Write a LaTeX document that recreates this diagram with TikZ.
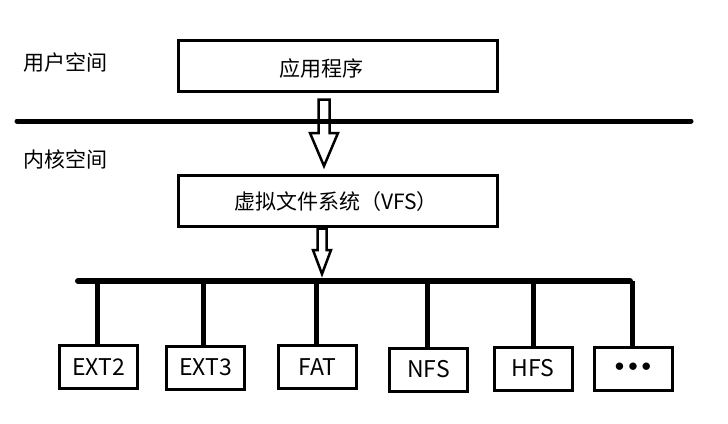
\documentclass[tikz,border=0pt]{standalone}
\usepackage{fontspec}
\setmainfont{Noto Sans CJK SC}
\newfontfamily\dotfont{DejaVu Sans Bold}
\usetikzlibrary{calc}
\tikzset{
  box/.style={draw=black, line width=3pt, inner sep=0pt},
  bigbox/.style={box, minimum width=319pt, minimum height=51pt},
  fsbox/.style={box, minimum width=78pt, minimum height=43pt, font=\fontsize{23}{27}\selectfont},
  cjk/.style={inner sep=0pt, font=\fontsize{21}{25}\selectfont},
  thickline/.style={line width=5pt, line cap=round},
  stem/.style={line width=5pt},
  hollow/.style={draw=black, line width=2.5pt, line join=miter, fill=none}
}
\newcommand{\hollowarrow}[6]{% x, ytop, yhead, ytip, shaft half, head half
  \draw[hollow] (#1-#5,#2) -- (#1+#5,#2) -- (#1+#5,#3) -- (#1+#6,#3) -- (#1,#4)
     -- (#1-#6,#3) -- (#1-#5,#3) -- cycle;}
\begin{document}
\begin{tikzpicture}[x=1pt,y=-1pt]
\useasboundingbox (0,0) rectangle (728,423);
\fill[white] (0,0) rectangle (728,423);

% side labels
\node[cjk, anchor=west] (user) at (23,63) {用户空间};
\node[cjk, anchor=west] (kernel) at (23,159) {内核空间};

% top boxes
\node[bigbox] (app) at (338,66) {};
\node[cjk] (applbl) at (321,69) {应用程序};
\node[bigbox] (vfs) at (338,200.5) {};
\node[cjk] (vfslbl) at (336,202) {虚拟文件系统（VFS）};

% hollow arrows
\hollowarrow{324}{99.5}{133}{166}{5.5}{14}
\hollowarrow{322}{228.5}{250}{274}{4.5}{9}

% user/kernel separator
\coordinate (sepL) at (17,121);
\coordinate (sepR) at (691,121);
\draw[thickline] (sepL) -- (sepR);

% bus
\coordinate (busL) at (78,281);
\coordinate (busR) at (630,281);
\draw[line width=6pt, line cap=round] (busL) -- (busR);

% file system boxes
\node[fsbox] (ext2) at (98.5,367) {EXT2};
\node[fsbox] (ext3) at (205.5,367.5) {EXT3};
\node[fsbox] (fat) at (317.5,367) {FAT};
\node[fsbox] (nfs) at (428.5,369.5) {NFS};
\node[fsbox] (hfs) at (533,368.5) {HFS};
\node[fsbox, font=\dotfont\fontsize{21}{25}\selectfont] (more) at (633,368.5) {•••};

\foreach \n/\x in {ext2/97,ext3/203,fat/316,nfs/427,hfs/533,more/632}{
  \draw[stem] (\x,281) -- (\x,0 |- \n.north);
}
\end{tikzpicture}
\end{document}
